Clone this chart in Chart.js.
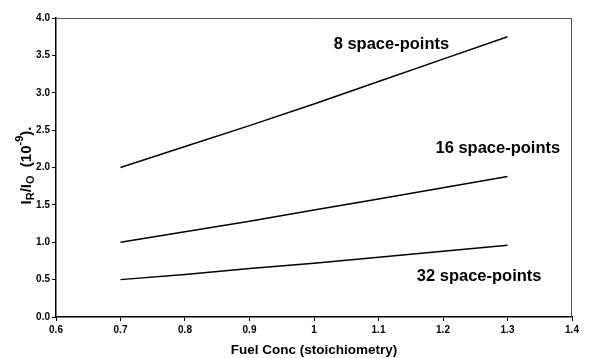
<!DOCTYPE html>
<html>
<head>
<meta charset="utf-8">
<script src="https://cdn.jsdelivr.net/npm/chart.js@4/dist/chart.umd.min.js"></script>
<style>
  html, body { margin: 0; padding: 0; background: #fff; }
  #wrap { width: 606px; height: 358px; position: relative; }
</style>
</head>
<body>
<div id="wrap"><canvas id="c"></canvas></div>
<script>
// Fuel concentration (stoichiometry) sample positions
const fuelConc = [0.7, 0.8, 0.9, 1.0, 1.1, 1.2, 1.3];
// Ratio IR/IO (x 10^-9) for each space-point resolution
const pts8  = [2.00, 2.28, 2.56, 2.85, 3.15, 3.45, 3.75];
const pts16 = [1.00, 1.14, 1.28, 1.43, 1.58, 1.73, 1.88];
const pts32 = [0.50, 0.57, 0.65, 0.72, 0.80, 0.88, 0.96];
const seriesNames = ['8 space-points', '16 space-points', '32 space-points'];
// Where each series name sits, in data units
const labelX = [1.12, 1.285, 1.256];
const labelY = [3.64, 2.26, 0.54];

const FONT = 'Liberation Sans, Arial, Helvetica, sans-serif';

function toXY(ys) { return fuelConc.map((x, i) => ({ x, y: ys[i] })); }

const boxAndText = {
  id: 'boxAndText',
  afterDraw(chart) {
    const { ctx, chartArea: a, scales } = chart;
    ctx.save();
    // plot frame
    ctx.strokeStyle = '#555';
    ctx.lineWidth = 1;
    ctx.beginPath();
    ctx.moveTo(a.left, a.top + 0.5);
    ctx.lineTo(a.right - 0.5, a.top + 0.5);
    ctx.lineTo(a.right - 0.5, a.bottom);
    ctx.stroke();

    // series names
    ctx.fillStyle = '#000';
    ctx.font = 'bold 16.5px ' + FONT;
    ctx.textAlign = 'center';
    ctx.textBaseline = 'middle';
    seriesNames.forEach((n, i) => {
      ctx.fillText(n, scales.x.getPixelForValue(labelX[i]), scales.y.getPixelForValue(labelY[i]));
    });

    // y-axis title with sub/superscripts: IR/IO (10^-9).
    const parts = [
      { t: 'I', s: 15, dy: 0 },
      { t: 'R', s: 11, dy: 4 },
      { t: '/I', s: 15, dy: 0 },
      { t: 'O', s: 11, dy: 4 },
      { t: '  (10', s: 15, dy: 0 },
      { t: '-9', s: 11, dy: -7 },
      { t: ').', s: 15, dy: 0 }
    ];
    let total = 0;
    parts.forEach(p => { ctx.font = 'bold ' + p.s + 'px ' + FONT; p.w = ctx.measureText(p.t).width; total += p.w; });
    ctx.translate(27, (a.top + a.bottom) / 2 - 2);
    ctx.rotate(-Math.PI / 2);
    ctx.textAlign = 'left';
    ctx.textBaseline = 'middle';
    let x = -total / 2;
    parts.forEach(p => {
      ctx.font = 'bold ' + p.s + 'px ' + FONT;
      ctx.fillText(p.t, x, p.dy);
      x += p.w;
    });
    ctx.restore();
  }
};

const lineStyle = { borderColor: '#000', borderWidth: 1.5, pointRadius: 0, fill: false, tension: 0 };

new Chart(document.getElementById('c'), {
  type: 'line',
  data: {
    datasets: [
      Object.assign({ label: seriesNames[0], data: toXY(pts8) }, lineStyle),
      Object.assign({ label: seriesNames[1], data: toXY(pts16) }, lineStyle),
      Object.assign({ label: seriesNames[2], data: toXY(pts32) }, lineStyle)
    ]
  },
  options: {
    responsive: true,
    maintainAspectRatio: false,
    animation: false,
    layout: { padding: { top: 18, right: 34, left: 0, bottom: 0 } },
    plugins: { legend: { display: false }, tooltip: { enabled: false } },
    scales: {
      x: {
        type: 'linear',
        min: 0.6, max: 1.4,
        ticks: {
          stepSize: 0.1, color: '#000', padding: 3,
          font: { family: FONT, size: 10, weight: 'bold' },
          maxRotation: 0,
          callback: v => (Math.abs(v - 1) < 1e-9 ? '1' : v.toFixed(1))
        },
        grid: { drawOnChartArea: false, color: '#000', tickLength: 4 },
        border: { color: '#000', width: 1.5 },
        title: {
          display: true, text: 'Fuel Conc (stoichiometry)', color: '#000',
          font: { family: FONT, size: 13.5, weight: 'bold' }, padding: { top: 5, bottom: 0 }
        },
        afterFit: s => { s.height = 41; }
      },
      y: {
        min: 0, max: 4,
        ticks: {
          stepSize: 0.5, color: '#000', padding: 2,
          font: { family: FONT, size: 10, weight: 'bold' },
          callback: v => v.toFixed(1)
        },
        grid: { drawOnChartArea: false, color: '#000', tickLength: 4 },
        border: { color: '#000', width: 1.5 },
        afterFit: s => { s.width = 56; }
      }
    }
  },
  plugins: [boxAndText]
});
</script>
</body>
</html>
